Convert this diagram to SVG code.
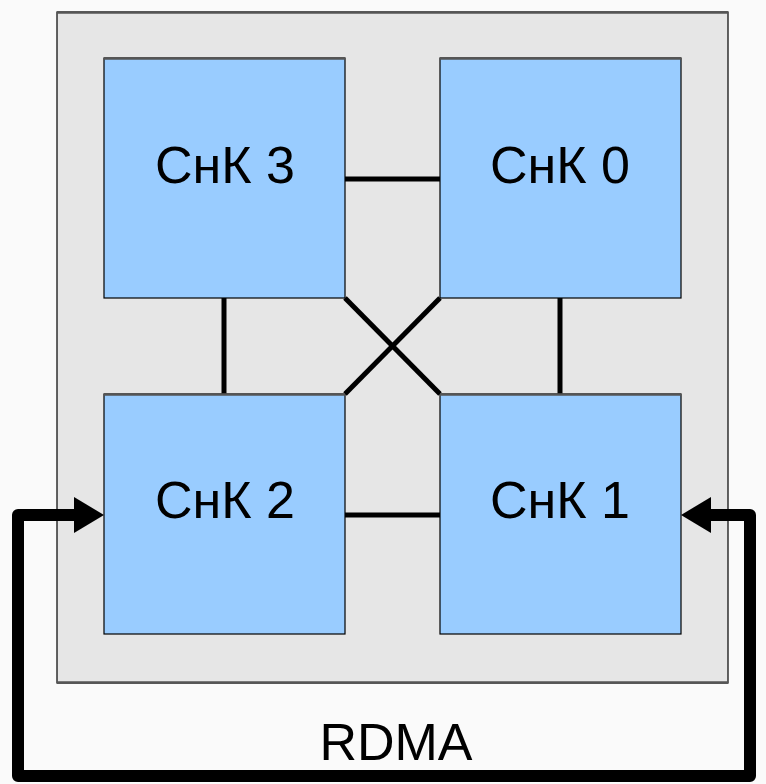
<svg xmlns="http://www.w3.org/2000/svg" width="766" height="784" viewBox="0 0 766 784">
<style>
.node{fill:#99ccff;stroke:#000;stroke-width:1.2}
.topb{stroke:#555;stroke-width:2.5}
.lbl{font-family:"Liberation Sans",Arial,sans-serif;font-size:52px;fill:#000;text-anchor:middle}
.link{stroke:#000;stroke-width:5;fill:none}
.rdma{stroke:#000;stroke-width:12;fill:none;stroke-linejoin:round}
.head{fill:#000}
</style>
<rect width="766" height="784" fill="#fafafa"/>
<g id="container">
<rect x="57" y="12" width="671" height="671" fill="#e6e6e6" stroke="#000" stroke-width="1.2"/>
<line class="topb" x1="57" y1="12.5" x2="728" y2="12.5"/>
<line class="topb" x1="57" y1="682.5" x2="728" y2="682.5"/>
</g>
<g id="connectors">
<line class="link" x1="345" y1="179" x2="440" y2="179"/>
<line class="link" x1="345" y1="515" x2="440" y2="515"/>
<line class="link" x1="224" y1="298" x2="224" y2="394"/>
<line class="link" x1="560" y1="298" x2="560" y2="394"/>
<line class="link" x1="345" y1="298" x2="440" y2="394"/>
<line class="link" x1="440" y1="298" x2="345" y2="394"/>
<path class="rdma" d="M750,776 L18,776 L18,515 L76,515"/>
<path class="rdma" d="M18,776 L750,776 L750,515 L709,515"/>
<polygon class="head" points="74,497 104,515 74,533"/>
<polygon class="head" points="711,497 681,515 711,533"/>
<text class="lbl" x="396" y="760">RDMA</text>
</g>
<g id="snk3">
<rect class="node" x="104" y="58" width="241" height="240"/>
<line class="topb" x1="104" y1="58.5" x2="345" y2="58.5"/>
<text class="lbl" x="225" y="183">СнК 3</text>
</g>
<g id="snk0">
<rect class="node" x="440" y="58" width="241" height="240"/>
<line class="topb" x1="440" y1="58.5" x2="681" y2="58.5"/>
<text class="lbl" x="560" y="183">СнК 0</text>
</g>
<g id="snk2">
<rect class="node" x="104" y="394" width="241" height="240"/>
<line class="topb" x1="104" y1="394.5" x2="345" y2="394.5"/>
<text class="lbl" x="225" y="518">СнК 2</text>
</g>
<g id="snk1">
<rect class="node" x="440" y="394" width="241" height="240"/>
<line class="topb" x1="440" y1="394.5" x2="681" y2="394.5"/>
<text class="lbl" x="560" y="518">СнК 1</text>
</g>
</svg>
